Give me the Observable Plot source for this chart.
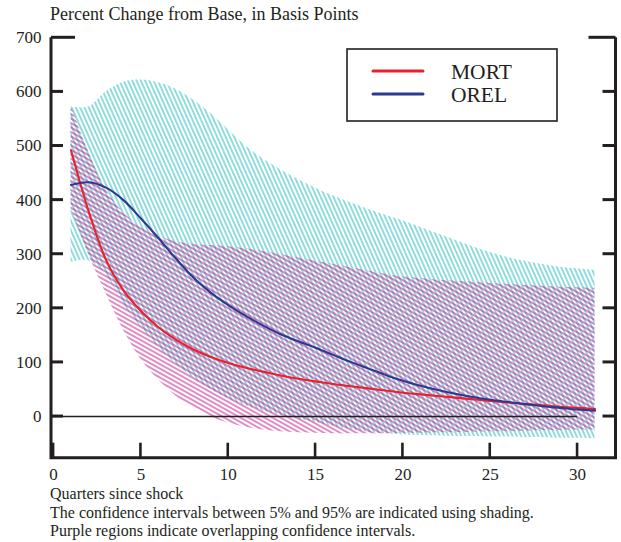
<!DOCTYPE html>
<html><head><meta charset="utf-8">
<script src="https://cdn.jsdelivr.net/npm/d3@7"></script>
<script src="https://cdn.jsdelivr.net/npm/@observablehq/plot@0.6"></script>
<style>
body{margin:0;background:#fff;font-family:"Liberation Serif","Times New Roman",serif;color:#231f20;width:621px;height:542px;overflow:hidden}
#title{height:23px;padding-top:5px;padding-left:50px;font-size:18px;line-height:18px;white-space:nowrap}
#caption{padding-top:1.3px;padding-left:50px;font-size:16px;line-height:18.5px;white-space:nowrap}
#chart svg{display:block}
#chart svg text{font-family:"Liberation Serif","Times New Roman",serif}
</style>
</head><body>
<div id="title">Percent Change from Base, in Basis Points</div>
<div id="chart"></div>
<div id="caption"></div>
<script>
// ---- data ----
const quarters = [1,2,3,4,5,6,7,8,9,10,11,12,13,14,15,16,17,18,19,20,21,22,23,24,25,26,27,28,29,30,31];
const mort    = [492,380,290,233,195,165,142,124,110,99,90,83,76,70,65,60,56,52,48,44,41,38,35,32,29,26,23,21,18,16,14];
const mortHi  = [575,490,420,377,350,333,323,318,316,314,310,305,299,293,287,281,275,269,263,258,255,252,250,248,246,244,242,241,239,238,237];
const mortLo  = [385,300,228,160,106,68,38,16,-1,-12,-20,-25,-28,-30,-31,-32,-32,-32,-32,-31,-31,-30,-30,-29,-28,-28,-27,-26,-26,-25,-25];
const orel    = [428,433,423,400,366,330,292,257,229,206,186,168,152,139,127,114,101,89,77,66,57,49,42,36,31,27,23,19,16,13,11];
const orelHi  = [572,572,600,618,622,617,605,585,560,530,500,476,456,438,422,408,395,383,372,362,350,338,326,314,303,294,287,281,276,273,270];
const orelLo  = [285,288,262,208,165,128,97,71,50,33,20,10,2,-5,-11,-18,-24,-29,-32,-34,-35,-36,-37,-37,-38,-38,-39,-39,-40,-40,-41];
const seriesNames = ["MORT","OREL"];
const seriesColors = ["#e8212b","#2b3990"];
const bandColors = ["#c4188f","#3fc3c3"];
const xTicks = [0,5,10,15,20,25,30];
const yTicks = [0,100,200,300,400,500,600,700];
const captionLines = ["Quarters since shock",
  "The confidence intervals between 5% and 95% are indicated using shading.",
  "Purple regions indicate overlapping confidence intervals."];

const rows = quarters.map((q,i)=>({q, mort:mort[i], mortHi:mortHi[i], mortLo:mortLo[i], orel:orel[i], orelHi:orelHi[i], orelLo:orelLo[i]}));
const ink = "#231f20";
const fontFam = '"Liberation Serif","Times New Roman",serif';

function defsMark() {
  const g = d3.create("svg:g");
  const defs = g.append("defs");
  const pc = defs.append("pattern").attr("id","hatchOrel").attr("patternUnits","userSpaceOnUse")
    .attr("width",3.9).attr("height",10).attr("patternTransform","rotate(-24)");
  pc.append("line").attr("x1",1.95).attr("x2",1.95).attr("y1",-1).attr("y2",11)
    .attr("stroke",bandColors[1]).attr("stroke-width",1.15);
  const pm = defs.append("pattern").attr("id","hatchMort").attr("patternUnits","userSpaceOnUse")
    .attr("width",10).attr("height",3.9).attr("patternTransform","rotate(29)");
  pm.append("line").attr("x1",-1).attr("x2",11).attr("y1",1.95).attr("y2",1.95)
    .attr("stroke",bandColors[0]).attr("stroke-width",1.0);
  return g.node();
}

function frameMark(index, scales, values, dims) {
  const {x, y} = scales;
  const L = dims.marginLeft, R = dims.width - dims.marginRight, T = dims.marginTop, B = dims.height - dims.marginBottom;
  const g = d3.create("svg:g").attr("stroke", ink).attr("stroke-width", 3).attr("fill","none");
  g.append("path").attr("d", `M${L},${T}V${B}H${R}V${T}`);
  for (const t of yTicks) {
    const yy = y(t);
    const top = t === yTicks[yTicks.length-1];
    g.append("path").attr("d", `M${L},${yy}h${top ? 24 : 12}`);
    g.append("path").attr("d", `M${R},${yy}h${top ? -27 : -13}`);
  }
  for (const t of xTicks) {
    g.append("path").attr("d", `M${x(t)},${B}v-15`).attr("stroke-width",2.6);
  }
  return g.node();
}

function legendMark(index, scales, values, dims) {
  const g = d3.create("svg:g");
  g.append("rect").attr("x",347).attr("y",21).attr("width",210).attr("height",72)
    .attr("fill","#fff").attr("stroke",ink).attr("stroke-width",1.6);
  seriesNames.forEach((name,i)=>{
    const yy = 43 + i*23;
    g.append("line").attr("x1",373).attr("x2",423).attr("y1",yy).attr("y2",yy)
      .attr("stroke",seriesColors[i]).attr("stroke-width",3).attr("stroke-linecap","round");
    g.append("text").attr("x",451).attr("y",yy+7.5).attr("font-size",21.5)
      .attr("font-family",fontFam).attr("text-anchor","start").attr("fill",ink).text(name);
  });
  return g.node();
}

const xDomain = [-0.12, 32.2];
const chart = Plot.plot({
  width: 621,
  height: 456,
  marginLeft: 51,
  marginRight: 5.5,
  marginTop: 9.3,
  marginBottom: 26.3,
  style: {fontFamily: fontFam, fontSize: "17px", color: ink, background: "#fff"},
  x: {domain: xDomain},
  y: {domain: [-77, 700]},
  marks: [
    defsMark,
    Plot.areaY(rows, {x:"q", y1:"orelLo", y2:"orelHi", fill:"url(#hatchOrel)", curve:"catmull-rom"}),
    Plot.areaY(rows, {x:"q", y1:"mortLo", y2:"mortHi", fill:"url(#hatchMort)", curve:"catmull-rom"}),
    Plot.ruleY([0], {x1: xDomain[0], x2: 30, stroke: ink, strokeWidth: 1.6}),
    Plot.line(rows, {x:"q", y:"mort", stroke: seriesColors[0], strokeWidth: 2.1, curve:"catmull-rom"}),
    Plot.line(rows, {x:"q", y:"orel", stroke: seriesColors[1], strokeWidth: 2.1, curve:"catmull-rom"}),
    Plot.axisX(xTicks, {tickSize: 0, tickPadding: 10, label: null, fontFamily: fontFam, fontSize: 17}),
    Plot.axisY(yTicks, {tickSize: 0, tickPadding: 10, label: null, fontFamily: fontFam, fontSize: 17}),
    frameMark,
    legendMark
  ]
});
document.getElementById("chart").appendChild(chart);
const cap = document.getElementById("caption");
captionLines.forEach(t=>{const d=document.createElement("div"); d.textContent=t; cap.appendChild(d);});
</script>
</body></html>
